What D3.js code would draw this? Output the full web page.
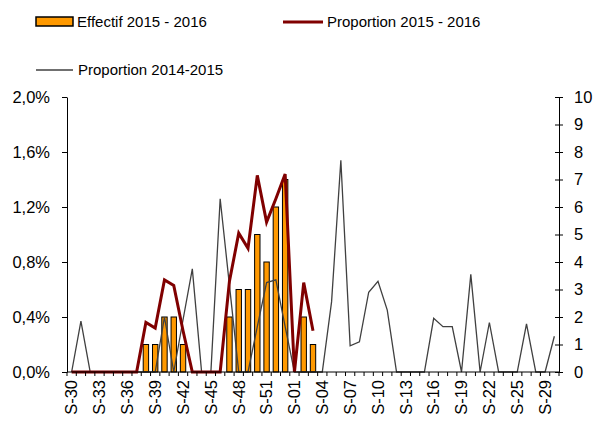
<!DOCTYPE html>
<html>
<head>
<meta charset="utf-8">
<script src="https://cdn.jsdelivr.net/npm/d3@7"></script>
<style>
  body { margin: 0; background: #fff; }
  svg { font-family: "Liberation Sans", Arial, sans-serif; }
</style>
</head>
<body>
<script>
// weeks, bar counts (right axis) and two proportion series (left axis, in %)
const weeks = [
  "S-30","S-31","S-32","S-33","S-34","S-35","S-36","S-37","S-38","S-39","S-40","S-41",
  "S-42","S-43","S-44","S-45","S-46","S-47","S-48","S-49","S-50","S-51","S-52","S-53",
  "S-01","S-02","S-03","S-04","S-05","S-06","S-07","S-08","S-09","S-10","S-11","S-12",
  "S-13","S-14","S-15","S-16","S-17","S-18","S-19","S-20","S-21","S-22","S-23","S-24",
  "S-25","S-27","S-28","S-29","S-30 "
];

const effectif1516 = [
  0,0,0,0,0,0,0,0,1,1,2,2,
  1,0,0,0,0,2,3,3,5,4,6,7,
  0,2,1
];

const prop1516 = [
  0,0,0,0,0,0,0,0,0.36,0.32,0.67,0.63,
  0.30,0,0,0,0,0.66,1.01,0.90,1.43,1.09,1.26,1.44,
  0,0.65,0.30
];

const prop1415 = [
  0,0.37,0,0,0,0,0,0,0,0,0.40,0,
  0.38,0.75,0,0,1.26,0.63,0,0,0.33,0.65,0.67,0.33,
  0,0,0,0,0.51,1.54,0.19,0.22,0.58,0.66,0.45,0,
  0,0,0,0.39,0.33,0.33,0,0.71,0,0.36,0,0,
  0,0.35,0,0,0.26
];

const leftTicks = [0, 0.4, 0.8, 1.2, 1.6, 2.0];
const rightTicks = d3.range(0, 11);

const W = 599, H = 423;
const plotL = 67, plotR = 559, plotT = 97, plotB = 372;
const tickFont = 16.5;

const svg = d3.select("body").append("svg")
  .attr("width", W)
  .attr("height", H);

const x = d3.scaleBand().domain(weeks).range([plotL, plotR]).padding(0);
const yL = d3.scaleLinear().domain([0, 2]).range([plotB, plotT]);
const yR = d3.scaleLinear().domain([0, 10]).range([plotB, plotT]);
const cx = (i) => x(weeks[i]) + x.bandwidth() / 2;

// bars
const barW = x.bandwidth() * 0.58;
svg.append("g")
  .selectAll("rect")
  .data(effectif1516.map((v, i) => ({ v, i })).filter(d => d.v > 0))
  .enter()
  .append("rect")
  .attr("x", d => cx(d.i) - barW / 2)
  .attr("y", d => yR(d.v))
  .attr("width", barW)
  .attr("height", d => yR(0) - yR(d.v))
  .attr("fill", "#ff9900")
  .attr("stroke", "#000")
  .attr("stroke-width", 1);

// lines
const line = (s) => d3.line()
  .x((d, i) => cx(i))
  .y(d => yL(d))(s);

svg.append("path")
  .attr("d", line(prop1415))
  .attr("fill", "none")
  .attr("stroke", "#404040")
  .attr("stroke-width", 1.3);

svg.append("path")
  .attr("d", line(prop1516))
  .attr("fill", "none")
  .attr("stroke", "#800000")
  .attr("stroke-width", 3);

// left axis
const fmtPct = d => d3.format(".1f")(d).replace(".", ",") + "%";
svg.append("g")
  .attr("transform", `translate(${plotL},0)`)
  .call(d3.axisLeft(yL).tickValues(leftTicks).tickFormat(fmtPct).tickSizeInner(5).tickSizeOuter(0).tickPadding(12));

// right axis, ticks cross the line
const gR = svg.append("g")
  .attr("transform", `translate(${plotR},0)`)
  .call(d3.axisRight(yR).tickValues(rightTicks).tickSizeInner(4).tickSizeOuter(0).tickPadding(11));
gR.selectAll(".tick line").attr("x1", -4);

// bottom axis: ticks between categories, label every third week
svg.append("line")
  .attr("x1", plotL).attr("x2", plotR)
  .attr("y1", plotB).attr("y2", plotB)
  .attr("stroke", "#000");

svg.append("g")
  .selectAll("line")
  .data(weeks.concat(["end"]))
  .enter()
  .append("line")
  .attr("x1", (d, i) => i < weeks.length ? x(d) : plotR)
  .attr("x2", (d, i) => i < weeks.length ? x(d) : plotR)
  .attr("y1", plotB)
  .attr("y2", plotB + 4)
  .attr("stroke", "#000");

const gB = svg.append("g")
  .attr("transform", `translate(0,${plotB})`)
  .call(d3.axisBottom(x).tickSize(0).tickFormat((d, i) => i % 3 === 0 ? d : ""));
gB.select(".domain").remove();
gB.selectAll("text")
  .attr("transform", "rotate(-90)")
  .attr("x", -8)
  .attr("y", 0)
  .attr("dy", "0.35em")
  .style("text-anchor", "end");

svg.selectAll(".tick text").attr("font-size", tickFont).attr("fill", "#000").attr("font-family", "Liberation Sans, Arial, sans-serif");
svg.selectAll(".domain, .tick line").attr("stroke", "#000");

// legend
const lg = svg.append("g").attr("font-size", 15).attr("fill", "#000");
lg.append("rect").attr("x", 36).attr("y", 17).attr("width", 37).attr("height", 9)
  .attr("fill", "#ff9900").attr("stroke", "#000").attr("stroke-width", 1.5);
lg.append("text").attr("x", 77).attr("y", 27).text("Effectif 2015 - 2016");
lg.append("line").attr("x1", 283).attr("x2", 323).attr("y1", 22).attr("y2", 22)
  .attr("stroke", "#800000").attr("stroke-width", 3);
lg.append("text").attr("x", 327).attr("y", 27).text("Proportion 2015 - 2016");
lg.append("line").attr("x1", 36).attr("x2", 73).attr("y1", 70).attr("y2", 70)
  .attr("stroke", "#404040").attr("stroke-width", 1.3);
lg.append("text").attr("x", 78).attr("y", 75).text("Proportion 2014-2015");
</script>
</body>
</html>
